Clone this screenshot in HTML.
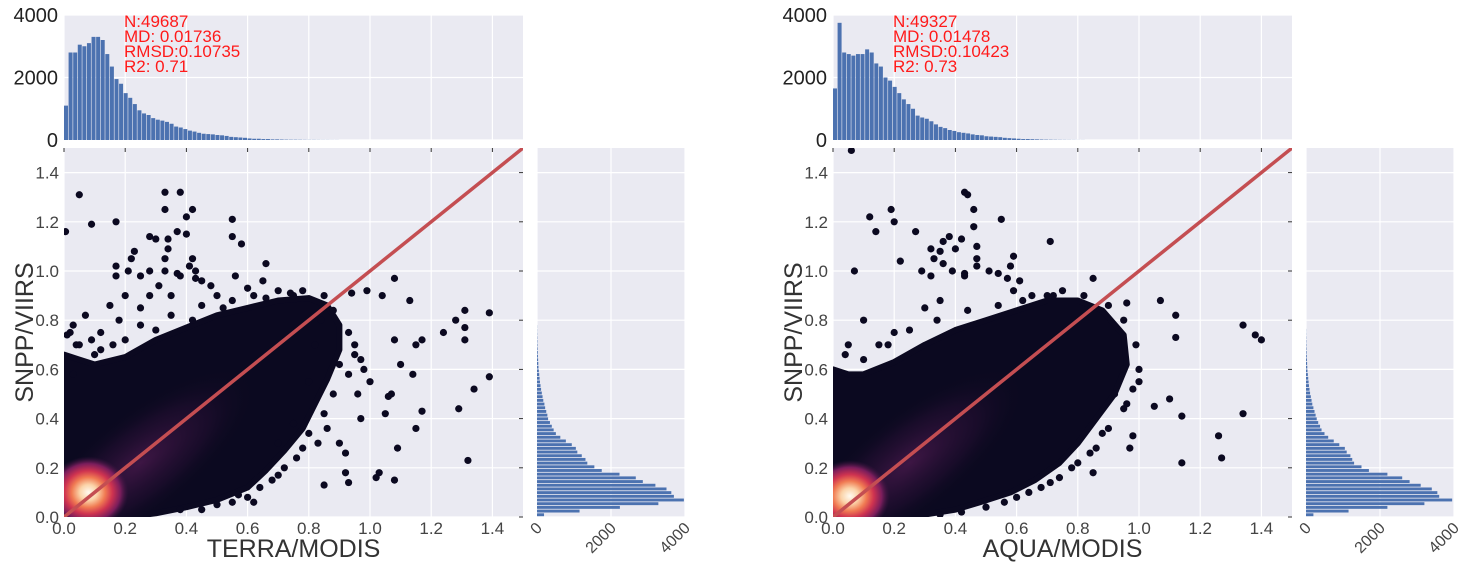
<!DOCTYPE html>
<html><head><meta charset="utf-8"><style>
html,body{margin:0;padding:0;background:#fff;overflow:hidden;width:1481px;height:570px;}
svg{display:block;font-family:"Liberation Sans",sans-serif;}
</style></head><body>
<svg id="chart" width="1481" height="570" viewBox="0 0 1481 570" xmlns="http://www.w3.org/2000/svg">
<defs>
<radialGradient id="kde" cx="50%" cy="50%" r="50%">
<stop offset="0" stop-color="#fffaf0"/>
<stop offset="0.22" stop-color="#fbd3a8"/>
<stop offset="0.42" stop-color="#f07a52"/>
<stop offset="0.6" stop-color="#cf3350"/>
<stop offset="0.8" stop-color="#7a1d5c"/>
<stop offset="1" stop-color="#3a1540" stop-opacity="0"/>
</radialGradient>
<radialGradient id="halo" cx="50%" cy="50%" r="50%">
<stop offset="0" stop-color="#4e1a50" stop-opacity="0.75"/>
<stop offset="0.6" stop-color="#2a1036" stop-opacity="0.45"/>
<stop offset="1" stop-color="#0d0a1e" stop-opacity="0"/>
</radialGradient>
</defs>
</svg>
<script>
// ---------- data ----------
const xTicks = [0.0,0.2,0.4,0.6,0.8,1.0,1.2,1.4];
const yTicks = [0.0,0.2,0.4,0.6,0.8,1.0,1.2,1.4];
const countTicks = [0,2000,4000];
const binWidth = 0.015;
const titlesX = ["TERRA/MODIS","AQUA/MODIS"];
const statsLeft = ["N:49687","MD: 0.01736","RMSD:0.10735","R2: 0.71"];
const statsRight = ["N:49327","MD: 0.01478","RMSD:0.10423","R2: 0.73"];
const topHistLeft = [1100,2800,2800,3050,3000,3100,3300,3300,3200,2750,2350,1950,1800,1500,1350,1150,950,850,800,700,650,620,580,520,430,400,350,300,270,230,200,190,180,160,150,130,100,90,80,70,50,40,40,30,30,20,20,15,12,10,10,8,6,5,5,4,3,3,2,2];
const topHistRight = [1650,3750,2800,2750,2700,2750,2750,2900,2800,2450,2350,2000,1900,1700,1500,1300,1150,1000,780,720,680,600,500,420,380,320,290,250,230,210,180,160,150,120,110,100,90,70,60,50,40,30,30,25,20,15,12,10,8,6,5,4,3,2,2];
const sideHistLeft = [190,1150,2240,3280,3970,3700,3630,3500,3200,2860,2670,2230,1750,1550,1360,1310,1210,1090,1050,940,780,630,510,450,400,350,300,280,250,220,200,170,150,130,110,95,80,70,60,50,40,35,30,25,20,15,12,10,8,6,4,3];
const sideHistRight = [200,1150,2200,3200,3950,3600,3550,3400,3100,2800,2600,2200,1700,1500,1300,1250,1200,1100,1050,900,750,600,500,420,380,330,290,260,230,200,170,150,130,110,95,80,70,60,50,40,35,30,25,20,15,12,10,8,6,4,3];
const cloudLeft = [[0,0.66],[0.05,0.64],[0.1,0.62],[0.2,0.65],[0.3,0.72],[0.4,0.77],[0.5,0.82],[0.6,0.85],[0.7,0.88],[0.8,0.89],[0.86,0.86],[0.9,0.78],[0.9,0.68],[0.86,0.56],[0.82,0.46],[0.78,0.36],[0.72,0.27],[0.66,0.19],[0.6,0.12],[0.5,0.07],[0.4,0.04],[0.3,0.015],[0.2,0],[0,0]];
const cloudRight = [[0,0.6],[0.05,0.58],[0.1,0.58],[0.2,0.63],[0.3,0.7],[0.4,0.76],[0.5,0.8],[0.6,0.84],[0.7,0.88],[0.8,0.88],[0.88,0.84],[0.95,0.74],[0.96,0.62],[0.92,0.5],[0.86,0.4],[0.8,0.3],[0.74,0.22],[0.66,0.15],[0.58,0.1],[0.48,0.06],[0.4,0.03],[0.3,0.01],[0.2,0],[0,0]];
const ptsLeftX = [0.005,0.05,0.09,0.17,0.33,0.38,0.33,0.42,0.4,0.55,0.37,0.4,0.28,0.3,0.34,0.55,0.58,0.34,0.23,0.22,0.33,0.42,0.66,0.17,0.21,0.28,0.33,0.41,0.37,0.38,0.43,0.17,0.25,0.43,0.45,0.56,0.65,0.48,0.31,1.08,0.99,0.94,1.04,1.13,1.31,1.39,1.28,1.31,1.24,1.31,1.15,1.17,1.08,1.1,1.14,1.39,1.34,1.06,1.07,1.17,1.29,1.05,1.15,0.97,1.09,0.92,1.32,1.03,1.02,1.08,0.93,0.85,0.92,0.62,0.04,0.09,0.02,0.03,0.07,0.12,0.18,0.25,0.15,0.7,0.75,0.2,0.28,0.35,0.5,0.6,0.95,1.0,0.98,0.9,
 0.05,0.12,0.2,0.25,0.35,0.45,0.55,0.62,0.78,0.85,0.88,0.93,0.95,0.93,0.88,0.85,0.8,0.78,0.72,0.68,0.6,0.55,0.45,0.7,0.75,0.8,0.82,0.1,0.16,0.3,0.42,0.52,0.66,0.74,0.84,0.9,0.97,0.96,0.86,0.83,0.76,0.7,0.64,0.57,0.5,0.38,0.01,0.03];
const ptsLeftY = [1.16,1.31,1.19,1.2,1.32,1.32,1.25,1.25,1.22,1.21,1.16,1.15,1.14,1.13,1.13,1.14,1.11,1.09,1.08,1.05,1.05,1.05,1.03,1.02,1.0,1.0,1.0,1.02,0.99,0.98,1.0,0.98,0.98,0.97,0.96,0.98,0.96,0.94,0.94,0.97,0.92,0.91,0.9,0.88,0.84,0.83,0.8,0.77,0.75,0.72,0.7,0.72,0.72,0.62,0.58,0.57,0.52,0.49,0.5,0.43,0.44,0.42,0.36,0.4,0.28,0.26,0.23,0.18,0.16,0.15,0.14,0.13,0.18,0.06,0.7,0.72,0.75,0.78,0.82,0.75,0.8,0.85,0.86,0.92,0.9,0.9,0.9,0.9,0.9,0.93,0.7,0.55,0.6,0.3,
 0.7,0.68,0.72,0.78,0.82,0.86,0.88,0.9,0.92,0.9,0.84,0.75,0.66,0.58,0.5,0.42,0.34,0.28,0.2,0.15,0.08,0.06,0.03,0.3,0.38,0.55,0.7,0.66,0.7,0.76,0.8,0.85,0.89,0.91,0.8,0.62,0.64,0.5,0.36,0.3,0.24,0.17,0.12,0.09,0.05,0.03,0.74,0.58];
const ptsRightX = [0.06,0.07,0.19,0.12,0.14,0.2,0.27,0.43,0.44,0.46,0.55,0.46,0.36,0.38,0.42,0.32,0.47,0.35,0.4,0.22,0.33,0.36,0.47,0.59,0.29,0.39,0.51,0.32,0.58,0.43,0.47,0.54,0.57,0.43,0.71,0.85,0.61,0.59,0.96,1.12,1.07,1.12,1.34,1.38,1.4,1.05,1.1,1.14,1.34,1.26,0.98,0.97,1.27,1.14,0.85,0.05,0.1,0.2,0.3,0.15,0.7,0.75,0.65,1.0,0.95,0.35,
 0.04,0.1,0.18,0.25,0.34,0.44,0.54,0.62,0.72,0.82,0.9,0.95,0.99,1.0,0.98,0.95,0.9,0.86,0.8,0.74,0.68,0.6,0.5,0.42,0.35,0.92,0.96,0.88,0.84,0.78,0.71,0.64,0.56];
const ptsRightY = [1.49,1.0,1.25,1.22,1.16,1.2,1.16,1.32,1.31,1.25,1.21,1.18,1.12,1.14,1.13,1.09,1.1,1.08,1.09,1.04,1.05,1.03,1.05,1.06,1.0,1.0,1.0,0.98,1.02,0.99,1.02,0.99,0.97,0.98,1.12,0.97,0.96,0.92,0.87,0.82,0.88,0.73,0.78,0.74,0.72,0.45,0.48,0.41,0.42,0.33,0.33,0.28,0.24,0.22,0.18,0.7,0.8,0.75,0.85,0.7,0.9,0.92,0.9,0.55,0.6,0.88,
 0.66,0.64,0.7,0.76,0.8,0.84,0.86,0.88,0.9,0.9,0.86,0.8,0.7,0.6,0.52,0.44,0.36,0.28,0.22,0.16,0.12,0.08,0.04,0.02,0.01,0.5,0.46,0.34,0.26,0.2,0.14,0.1,0.06];

// ---------- layout ----------
const NS="http://www.w3.org/2000/svg";
const svg=document.getElementById('chart');
function mk(tag,attrs,parent){const e=document.createElementNS(NS,tag);for(const k in attrs)e.setAttribute(k,attrs[k]);(parent||svg).appendChild(e);return e;}

const panels=[
 {ox:64, top:topHistLeft, side:sideHistLeft, cloud:cloudLeft, px:ptsLeftX, py:ptsLeftY, stats:statsLeft, title:titlesX[0], kx:0.08, ky:0.1, name:'terra'},
 {ox:833, top:topHistRight, side:sideHistRight, cloud:cloudRight, px:ptsRightX, py:ptsRightY, stats:statsRight, title:titlesX[1], kx:0.055, ky:0.085, name:'aqua'}
];
const MW=459, MT=148, MB=517, HT=15, HB=140, SW=148;
const BG="#eaeaf2", TXT="#444";

panels.forEach((p,pi)=>{
 const x0=p.ox, x1=p.ox+MW, sx0=p.ox+473, sx1=sx0+SW;
 const X=v=>x0+v/1.5*MW;
 const Y=v=>MB-v/1.5*(MB-MT);
 const HY=c=>HB-c/4000*(HB-HT);
 const SX=c=>sx0+c/4000*SW;
 const g=mk('g',{});
 
 

 // top histogram
 const tb=mk('rect',{x:x0,y:HT,width:MW,height:HB-HT,fill:BG},g);
 
 
 xTicks.forEach(t=>{mk('line',{x1:X(t),x2:X(t),y1:HT,y2:HB,stroke:'#fff','stroke-width':1.2},g);});
 countTicks.forEach(c=>{mk('line',{x1:x0,x2:x1,y1:HY(c),y2:HY(c),stroke:'#fff','stroke-width':1.2},g);
   const t=mk('text',{x:x0-6,y:HY(c)+7,'text-anchor':'end','font-size':20,fill:'#222'},g);t.textContent=c;
   
   });
 p.top.forEach((c,i)=>{const b=mk('rect',{x:X(i*binWidth),y:HY(c),width:Math.max(0,X(binWidth)-x0-0.6),height:HB-HY(c),fill:'#4c72b0'},g);
   
   });
 p.stats.forEach((s,i)=>{const t=mk('text',{x:x0+60,y:HT+12+i*15,'font-size':17,fill:'#ff1a1a'},g);t.textContent=s;
   
   });

 // main scatter
 const mb=mk('rect',{x:x0,y:MT,width:MW,height:MB-MT,fill:BG},g);
 
 
 xTicks.forEach(t=>{mk('line',{x1:X(t),x2:X(t),y1:MT,y2:MB,stroke:'#fff','stroke-width':1.2},g);
   mk('line',{x1:X(t),x2:X(t),y1:MT,y2:MT+4,stroke:'#333','stroke-width':1},g);
   const l=mk('text',{x:X(t),y:MB+17,'text-anchor':'middle','font-size':17,fill:TXT},g);l.textContent=t.toFixed(1);
   
   });
 yTicks.forEach(t=>{mk('line',{x1:x0,x2:x1,y1:Y(t),y2:Y(t),stroke:'#fff','stroke-width':1.2},g);
   mk('line',{x1:x1-4,x2:x1,y1:Y(t),y2:Y(t),stroke:'#333','stroke-width':1},g);
   const l=mk('text',{x:x0-5,y:Y(t)+6,'text-anchor':'end','font-size':17,fill:TXT},g);l.textContent=t.toFixed(1);
   
   });
 const cid='clip'+pi;
 const cp=mk('clipPath',{id:cid},g);mk('rect',{x:x0,y:MT,width:MW,height:MB-MT},cp);
 const cg=mk('g',{'clip-path':'url(#'+cid+')'},g);
 const cl=mk('polygon',{points:p.cloud.map(d=>X(d[0])+','+Y(d[1])).join(' '),fill:'#0b0920',stroke:'#0b0920','stroke-width':6,'stroke-linejoin':'round'},cg);
 
 
 p.px.forEach((v,i)=>{const c=mk('circle',{cx:X(v),cy:Y(p.py[i]),r:3.6,fill:'#0b0920'},cg);
   
   });
 const cx=X(p.kx), cy=Y(p.ky);
 const h=mk('ellipse',{cx:X(0.25),cy:Y(0.22),rx:140,ry:50,fill:'url(#halo)',transform:`rotate(-38 ${X(0.25)} ${Y(0.22)})`},cg);
 
 
 const k=mk('ellipse',{cx:cx,cy:cy,rx:40,ry:36,fill:'url(#kde)'},cg);
 
 
 const ln=mk('line',{x1:X(0),y1:Y(0),x2:X(1.5),y2:Y(1.5),stroke:'#c44e52','stroke-width':3.5},cg);
 
 
 const xl=mk('text',{x:(x0+x1)/2,y:557,'text-anchor':'middle','font-size':25,fill:'#333'},g);xl.textContent=p.title;
 
 
 const yl=mk('text',{x:0,y:0,'text-anchor':'middle','font-size':25,fill:'#333',transform:`translate(${x0-31},${(MT+MB)/2}) rotate(-90)`},g);yl.textContent='SNPP/VIIRS';
 
 

 // side histogram
 const sb=mk('rect',{x:sx0,y:MT,width:SW,height:MB-MT,fill:BG},g);
 
 
 yTicks.forEach(t=>mk('line',{x1:sx0,x2:sx1,y1:Y(t),y2:Y(t),stroke:'#fff','stroke-width':1.2},g));
 countTicks.forEach(c=>{mk('line',{x1:SX(c),x2:SX(c),y1:MT,y2:MB,stroke:'#fff','stroke-width':1.2},g);
   const t=mk('text',{x:0,y:0,'text-anchor':'end','font-size':16,fill:TXT,transform:`translate(${SX(c)+6},${MB+12}) rotate(-45)`},g);t.textContent=c;
   
   });
 p.side.forEach((c,i)=>{const bh=Y(0)-Y(binWidth);const b=mk('rect',{x:sx0,y:Y((i+1)*binWidth),width:SX(c)-sx0,height:Math.max(0,bh-0.8),fill:'#4c72b0'},g);
   
   });
});
</script>
</body></html>
